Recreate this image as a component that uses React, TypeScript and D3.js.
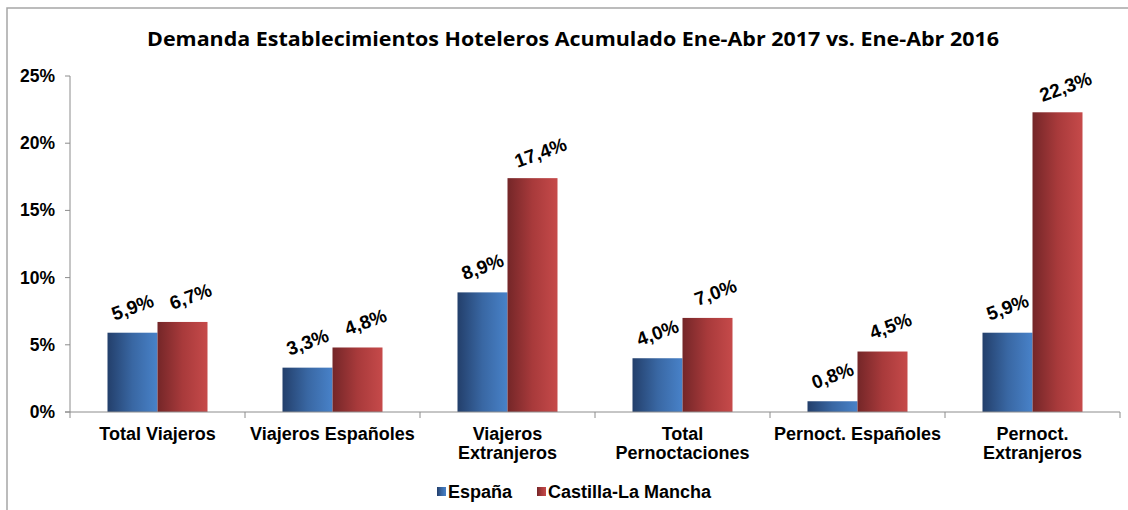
import React from "react";
import * as d3 from "d3";

const categories = [
  ["Total Viajeros"],
  ["Viajeros Españoles"],
  ["Viajeros", "Extranjeros"],
  ["Total", "Pernoctaciones"],
  ["Pernoct. Españoles"],
  ["Pernoct.", "Extranjeros"],
];
const espana = [5.9, 3.3, 8.9, 4.0, 0.8, 5.9];
const clm = [6.7, 4.8, 17.4, 7.0, 4.5, 22.3];
const seriesNames = ["España", "Castilla-La Mancha"];
const yTicks = [0, 5, 10, 15, 20, 25];

const W = 1128;
const H = 510;
const left = 70;
const right = 1120;
const top = 76;
const bottom = 412;

export default function App() {
  const x = d3
    .scaleBand<number>()
    .domain(d3.range(categories.length))
    .range([left, right])
    .paddingInner(0)
    .paddingOuter(0);
  const inner = d3
    .scaleBand<number>()
    .domain([0, 1])
    .range([0, x.bandwidth()])
    .paddingOuter(0.75)
    .paddingInner(0);
  const y = d3.scaleLinear().domain([0, 25]).range([bottom, top]);
  const fmt = (v: number) => v.toFixed(1).replace(".", ",") + "%";
  const series = [espana, clm];
  const fills = ["url(#gBlue)", "url(#gRed)"];
  const font = "'Liberation Sans', Arial, sans-serif";
  const fs = 17.5;
  const fsCat = 18;

  return (
    <svg
      width={W}
      height={H}
      style={{ position: "absolute", left: 0, top: 0 }}
      fontFamily={font}
    >
      <defs>
        <linearGradient id="gBlue" x1="0" x2="1" y1="0" y2="0">
          <stop offset="0" stopColor="#233f6b" />
          <stop offset="0.5" stopColor="#3967a3" />
          <stop offset="1" stopColor="#4882c9" />
        </linearGradient>
        <linearGradient id="gRed" x1="0" x2="1" y1="0" y2="0">
          <stop offset="0" stopColor="#742628" />
          <stop offset="0.5" stopColor="#a83a3b" />
          <stop offset="1" stopColor="#c64a4a" />
        </linearGradient>
      </defs>
      <rect x={0} y={0} width={W} height={H} fill="#fff" />
      <rect
        x={7}
        y={8}
        width={W + 20}
        height={H + 20}
        fill="none"
        stroke="#a6a6a6"
        strokeWidth={1.5}
      />
      <text
        x={147}
        y={46}
        fontFamily="'Open Sans', Lato, sans-serif"
        fontWeight="bold"
        fontSize={19.5}
        textLength={852}
        lengthAdjust="spacingAndGlyphs"
        fill="#000"
      >
        Demanda Establecimientos Hoteleros Acumulado Ene-Abr 2017 vs. Ene-Abr 2016
      </text>

      {/* y axis */}
      <line x1={left} x2={left} y1={top} y2={bottom} stroke="#8c8c8c" strokeWidth={1} />
      {yTicks.map((t) => (
        <g key={t}>
          <line x1={left - 5} x2={left} y1={y(t)} y2={y(t)} stroke="#8c8c8c" />
          <text
            x={55}
            y={y(t) + 6}
            textAnchor="end"
            fontWeight="bold"
            fontSize={fs}
          >
            {t}%
          </text>
        </g>
      ))}

      {/* bars */}
      {series.map((s, si) =>
        s.map((v, ci) => {
          const bx = (x(ci) as number) + (inner(si) as number);
          const bw = inner.bandwidth();
          return (
            <rect
              key={`${si}-${ci}`}
              x={bx}
              y={y(v)}
              width={bw}
              height={y(0) - y(v)}
              fill={fills[si]}
            />
          );
        })
      )}

      {/* x axis */}
      <line x1={left - 5} x2={right} y1={bottom} y2={bottom} stroke="#8c8c8c" />
      {d3.range(categories.length + 1).map((i) => {
        const tx = left + i * x.step();
        return (
          <line
            key={i}
            x1={tx}
            x2={tx}
            y1={bottom}
            y2={bottom + 6}
            stroke="#8c8c8c"
          />
        );
      })}
      {categories.map((lines, ci) => (
        <text
          key={ci}
          textAnchor="middle"
          fontWeight="bold"
          fontSize={fsCat}
          fill="#000"
        >
          {lines.map((l, li) => (
            <tspan
              key={li}
              x={(x(ci) as number) + x.bandwidth() / 2}
              y={440 + li * 19}
            >
              {l}
            </tspan>
          ))}
        </text>
      ))}

      {/* value labels */}
      {series.map((s, si) =>
        s.map((v, ci) => {
          const cx =
            (x(ci) as number) +
            (inner(si) as number) +
            inner.bandwidth() / 2 +
            (si === 1 ? 8 : 0);
          const cy = y(v) - 26;
          return (
            <text
              key={`l${si}-${ci}`}
              transform={`translate(${cx},${cy}) rotate(-20)`}
              textAnchor="middle"
              fontWeight="bold"
              fontSize={19}
              dy={7}
            >
              {fmt(v)}
            </text>
          );
        })
      )}

      {/* legend */}
      {seriesNames.map((n, i) => {
        const lx = [437, 537][i];
        return (
          <g key={n}>
            <rect x={lx} y={487} width={9} height={9} fill={fills[i]} />
            <text x={lx + 11} y={498} fontWeight="bold" fontSize={fsCat}>
              {n}
            </text>
          </g>
        );
      })}
    </svg>
  );
}
